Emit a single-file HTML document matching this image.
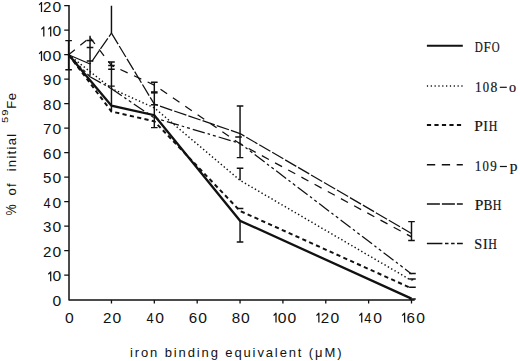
<!DOCTYPE html>
<html><head><meta charset="utf-8"><style>
html,body{margin:0;padding:0;background:#fff;}
body{width:520px;height:361px;overflow:hidden;}
svg{display:block;}
.ax{font-family:"Liberation Sans",sans-serif;font-size:14px;fill:#111;}
.lg{font-family:"Liberation Serif",serif;font-size:15.5px;fill:#111;stroke:#111;stroke-width:0.2px;}
</style></head><body>
<svg width="520" height="361" viewBox="0 0 520 361">
<rect width="520" height="361" fill="#fff"/>

<path d="M69.00 5.12 V299.90 H414.71" fill="none" stroke="#111" stroke-width="1.5" stroke-linejoin="round"/>
<path d="M64.20 275.11 H69.0 M64.20 250.62 H69.0 M64.20 226.13 H69.0 M64.20 201.64 H69.0 M64.20 177.15 H69.0 M64.20 152.66 H69.0 M64.20 128.17 H69.0 M64.20 103.68 H69.0 M64.20 79.19 H69.0 M64.20 54.70 H69.0 M64.20 30.21 H69.0 M64.20 5.72 H69.0 M111.46 299.9 V303.50 M154.32 299.9 V303.50 M197.19 299.9 V303.50 M240.05 299.9 V303.50 M282.91 299.9 V303.50 M325.77 299.9 V303.50 M368.63 299.9 V303.50 M411.50 299.9 V303.50" stroke="#111" stroke-width="1.3" fill="none"/>
<text class="ax" transform="translate(56.85,305.80) scale(1.12,1)" text-anchor="middle">0</text>
<text class="ax" transform="translate(56.85,281.31) scale(1.12,1)" text-anchor="middle">0</text>
<text class="ax" transform="translate(47.10,256.82) scale(1.08,1)" text-anchor="middle">2</text>
<text class="ax" transform="translate(56.85,256.82) scale(1.12,1)" text-anchor="middle">0</text>
<text class="ax" transform="translate(47.10,232.33) scale(1.08,1)" text-anchor="middle">3</text>
<text class="ax" transform="translate(56.85,232.33) scale(1.12,1)" text-anchor="middle">0</text>
<text class="ax" transform="translate(47.10,207.84) scale(0.92,1)" text-anchor="middle">4</text>
<text class="ax" transform="translate(56.85,207.84) scale(1.12,1)" text-anchor="middle">0</text>
<text class="ax" transform="translate(47.10,183.35) scale(1.08,1)" text-anchor="middle">5</text>
<text class="ax" transform="translate(56.85,183.35) scale(1.12,1)" text-anchor="middle">0</text>
<text class="ax" transform="translate(47.10,158.86) scale(1.08,1)" text-anchor="middle">6</text>
<text class="ax" transform="translate(56.85,158.86) scale(1.12,1)" text-anchor="middle">0</text>
<text class="ax" transform="translate(47.10,134.37) scale(1.08,1)" text-anchor="middle">7</text>
<text class="ax" transform="translate(56.85,134.37) scale(1.12,1)" text-anchor="middle">0</text>
<text class="ax" transform="translate(47.10,109.88) scale(1.08,1)" text-anchor="middle">8</text>
<text class="ax" transform="translate(56.85,109.88) scale(1.12,1)" text-anchor="middle">0</text>
<text class="ax" transform="translate(47.10,85.39) scale(1.08,1)" text-anchor="middle">9</text>
<text class="ax" transform="translate(56.85,85.39) scale(1.12,1)" text-anchor="middle">0</text>
<text class="ax" transform="translate(47.10,60.90) scale(1.12,1)" text-anchor="middle">0</text>
<text class="ax" transform="translate(56.85,60.90) scale(1.12,1)" text-anchor="middle">0</text>
<text class="ax" transform="translate(56.85,36.41) scale(1.12,1)" text-anchor="middle">0</text>
<text class="ax" transform="translate(47.10,11.92) scale(1.08,1)" text-anchor="middle">2</text>
<text class="ax" transform="translate(56.85,11.92) scale(1.12,1)" text-anchor="middle">0</text>
<text class="ax" transform="translate(69.40,322.60) scale(1.12,1)" text-anchor="middle">0</text>
<text class="ax" transform="translate(107.26,322.60) scale(1.08,1)" text-anchor="middle">2</text>
<text class="ax" transform="translate(116.76,322.60) scale(1.12,1)" text-anchor="middle">0</text>
<text class="ax" transform="translate(150.12,322.60) scale(0.92,1)" text-anchor="middle">4</text>
<text class="ax" transform="translate(159.62,322.60) scale(1.12,1)" text-anchor="middle">0</text>
<text class="ax" transform="translate(192.99,322.60) scale(1.08,1)" text-anchor="middle">6</text>
<text class="ax" transform="translate(202.49,322.60) scale(1.12,1)" text-anchor="middle">0</text>
<text class="ax" transform="translate(235.85,322.60) scale(1.08,1)" text-anchor="middle">8</text>
<text class="ax" transform="translate(245.35,322.60) scale(1.12,1)" text-anchor="middle">0</text>
<text class="ax" transform="translate(282.01,322.60) scale(1.12,1)" text-anchor="middle">0</text>
<text class="ax" transform="translate(291.91,322.60) scale(1.12,1)" text-anchor="middle">0</text>
<text class="ax" transform="translate(324.87,322.60) scale(1.08,1)" text-anchor="middle">2</text>
<text class="ax" transform="translate(334.77,322.60) scale(1.12,1)" text-anchor="middle">0</text>
<text class="ax" transform="translate(367.73,322.60) scale(0.92,1)" text-anchor="middle">4</text>
<text class="ax" transform="translate(377.63,322.60) scale(1.12,1)" text-anchor="middle">0</text>
<text class="ax" transform="translate(410.60,322.60) scale(1.08,1)" text-anchor="middle">6</text>
<text class="ax" transform="translate(420.50,322.60) scale(1.12,1)" text-anchor="middle">0</text>
<path d="M50.70 271.41 V281.31 M50.90 271.71 L48.30 274.31 M41.50 51.00 V60.90 M41.70 51.30 L39.10 53.90 M43.80 26.51 V36.41 M44.00 26.81 L41.40 29.41 M50.70 26.51 V36.41 M50.90 26.81 L48.30 29.41 M41.50 2.02 V11.92 M41.70 2.32 L39.10 4.92 M276.01 312.70 V322.60 M276.21 313.00 L273.61 315.60 M318.87 312.70 V322.60 M319.07 313.00 L316.47 315.60 M361.73 312.70 V322.60 M361.93 313.00 L359.33 315.60 M404.60 312.70 V322.60 M404.80 313.00 L402.20 315.60" stroke="#111" stroke-width="1.25" fill="none" stroke-linecap="butt"/>
<text class="ax" style="font-size:13px" x="130" y="357" textLength="211.5" lengthAdjust="spacing">iron binding equivalent (μM)</text>
<text class="ax" style="font-size:14px" transform="translate(15.700000000000001,215.6) rotate(-90) scale(0.9,1)">%</text>
<text class="ax" style="font-size:13px" transform="translate(16.3,195.6) rotate(-90)" textLength="12.2" lengthAdjust="spacing">of</text>
<text class="ax" style="font-size:13px" transform="translate(16.3,171.3) rotate(-90)" textLength="37.4" lengthAdjust="spacing">initial</text>
<text class="ax" style="font-size:9.5px" transform="translate(7.5,123.0) rotate(-90) scale(1.18,1)" letter-spacing="0.8">59</text>
<text class="ax" style="font-size:13px" transform="translate(16.3,108.8) rotate(-90)" letter-spacing="0.6">Fe</text>
<path d="M68.60 54.70 L111.46 105.64 L154.32 115.19 L240.05 220.74 L411.50 298.62" fill="none" stroke="#111" stroke-width="2.3" stroke-linejoin="miter"/>
<path d="M68.60 54.70 L111.46 111.52 L154.32 121.31 L240.05 210.95 L411.50 288.33" fill="none" stroke="#111" stroke-width="2.0" stroke-dasharray="4.2 3.3" stroke-linejoin="miter"/>
<path d="M68.60 54.70 L111.46 88.50 L154.32 107.84 L240.05 180.33 L411.50 280.50" fill="none" stroke="#111" stroke-width="1.45" stroke-dasharray="1.4 2.45" stroke-linejoin="miter"/>
<path d="M68.60 54.70 L90.03 37.56" fill="none" stroke="#111" stroke-width="1.25" stroke-dasharray="8 7" stroke-dashoffset="0"/>
<path d="M90.03 37.56 L111.46 65.48" fill="none" stroke="#111" stroke-width="1.25" stroke-dasharray="8 7" stroke-dashoffset="0"/>
<path d="M111.46 65.48 L154.32 85.07" fill="none" stroke="#111" stroke-width="1.25" stroke-dasharray="8 7" stroke-dashoffset="5.2"/>
<path d="M154.32 85.07 L240.05 143.84" fill="none" stroke="#111" stroke-width="1.25" stroke-dasharray="8 7" stroke-dashoffset="7.5"/>
<path d="M240.05 143.84 L411.50 236.91" fill="none" stroke="#111" stroke-width="1.25" stroke-dasharray="8 7" stroke-dashoffset="5.2"/>
<path d="M68.60 54.70 L90.03 64.01" fill="none" stroke="#111" stroke-width="1.25"/>
<path d="M90.03 64.01 L111.46 33.15" fill="none" stroke="#111" stroke-width="1.25" stroke-dasharray="12.9 2.1" stroke-dashoffset="11.7"/>
<path d="M111.46 33.15 L154.32 104.17" fill="none" stroke="#111" stroke-width="1.25" stroke-dasharray="12.9 2.1" stroke-dashoffset="0"/>
<path d="M154.32 104.17 L240.05 133.56" fill="none" stroke="#111" stroke-width="1.25" stroke-dasharray="12.9 2.1" stroke-dashoffset="9"/>
<path d="M240.05 133.56 L411.50 233.48" fill="none" stroke="#111" stroke-width="1.25" stroke-dasharray="12.9 2.1" stroke-dashoffset="7.8"/>
<path d="M68.60 54.70 L90.03 76.74" fill="none" stroke="#111" stroke-width="1.25" stroke-dasharray="12.5 3 2.5 3 3 3" stroke-dashoffset="0"/>
<path d="M90.03 76.74 L111.46 88.74" fill="none" stroke="#111" stroke-width="1.25" stroke-dasharray="12.5 3 2.5 3 3 3" stroke-dashoffset="0"/>
<path d="M111.46 88.74 L154.32 117.88" fill="none" stroke="#111" stroke-width="1.25" stroke-dasharray="12.5 3 2.5 3 3 3" stroke-dashoffset="0"/>
<path d="M154.32 117.88 L240.05 143.35" fill="none" stroke="#111" stroke-width="1.25" stroke-dasharray="12.5 3 2.5 3 3 3" stroke-dashoffset="13.9"/>
<path d="M240.05 143.35 L411.50 273.89" fill="none" stroke="#111" stroke-width="1.25" stroke-dasharray="12.5 3 2.5 3 3 3" stroke-dashoffset="8.6"/>
<path d="M68.60 40.6 V69.8 M65.30 40.6 H71.90 M65.30 69.8 H71.90 M90.03 35.8 V75.7 M86.73 40.4 H93.33 M86.73 47.5 H93.33 M86.73 61.0 H93.33 M111.46 5.8 V33.4 M111.46 62.0 V111.5 M108.16 62.0 H114.76 M108.16 65.4 H114.76 M108.16 69.2 H114.76 M108.16 86.1 H114.76 M154.32 82.3 V127.6 M151.02 82.3 H157.62 M151.02 104.8 H157.62 M151.02 127.6 H157.62 M240.05 105.9 V157.6 M236.75 105.9 H243.35 M236.75 157.6 H243.35 M238.55 137.0 V137.0 M235.25 137.0 H241.85 M240.05 168.2 V180.3 M236.75 168.2 H243.35 M240.05 220.5 V242.0 M236.75 242.0 H243.35 M236.75 208.4 H243.35 M411.50 221.6 V240.5 M408.20 221.6 H414.80 M408.20 240.5 H414.80 M412.46 273.4 V273.4 M409.16 273.4 H415.76 M412.46 279.0 V280.6 M409.16 279.0 H415.76 M412.46 287.3 V287.3 M409.16 287.3 H415.76 M412.46 299.0 V299.0 M409.16 299.0 H415.76" stroke="#111" stroke-width="1.45" fill="none"/>
<path d="M151.02 92.4 H157.62" stroke="#111" stroke-width="2.4" fill="none"/>
<path d="M426.9 45.8 H462.8" stroke="#111" stroke-width="2.0" fill="none"/>
<text class="lg" transform="translate(478.80,51.6) scale(0.72,1)" text-anchor="middle">D</text>
<text class="lg" transform="translate(487.15,51.6) scale(0.85,1)" text-anchor="middle">F</text>
<text class="lg" transform="translate(495.65,51.6) scale(0.7,1)" text-anchor="middle">O</text>
<path d="M426.9 86.0 H462.8" stroke="#111" stroke-width="1.5" stroke-dasharray="1.2 2.63" fill="none"/>
<text class="lg" transform="translate(478.35,91.5) scale(0.85,1)" text-anchor="middle">1</text>
<text class="lg" transform="translate(485.85,91.5) scale(0.82,1)" text-anchor="middle">0</text>
<text class="lg" transform="translate(493.95,91.5) scale(0.88,1)" text-anchor="middle">8</text>
<path d="M499.80 87.30 H506.80" stroke="#111" stroke-width="1.2"/>
<text class="lg" transform="translate(512.65,91.5) scale(0.92,1)" text-anchor="middle">o</text>
<path d="M426.9 125.1 H462.8" stroke="#111" stroke-width="2.0" stroke-dasharray="4.2 3.3" fill="none"/>
<text class="lg" transform="translate(478.65,130.7) scale(1.0,1)" text-anchor="middle">P</text>
<text class="lg" transform="translate(485.55,130.7) scale(0.9,1)" text-anchor="middle">I</text>
<text class="lg" transform="translate(493.05,130.7) scale(0.77,1)" text-anchor="middle">H</text>
<path d="M426.9 164.7 H462.8" stroke="#111" stroke-width="1.5" stroke-dasharray="8.3 6.6" fill="none"/>
<text class="lg" transform="translate(478.00,170.7) scale(0.85,1)" text-anchor="middle">1</text>
<text class="lg" transform="translate(485.60,170.7) scale(0.82,1)" text-anchor="middle">0</text>
<text class="lg" transform="translate(493.55,170.7) scale(0.84,1)" text-anchor="middle">9</text>
<path d="M499.90 166.50 H506.90" stroke="#111" stroke-width="1.2"/>
<text class="lg" transform="translate(513.55,170.7) scale(1.0,1)" text-anchor="middle">p</text>
<path d="M426.9 204.0 H462.8" stroke="#111" stroke-width="1.7" stroke-dasharray="13 2" fill="none"/>
<text class="lg" transform="translate(478.95,209.6) scale(1.0,1)" text-anchor="middle">P</text>
<text class="lg" transform="translate(487.85,209.6) scale(0.86,1)" text-anchor="middle">B</text>
<text class="lg" transform="translate(497.05,209.6) scale(0.77,1)" text-anchor="middle">H</text>
<path d="M426.9 243.4 H462.8" stroke="#111" stroke-width="1.5" stroke-dasharray="15.5 2.6 3.5 2.6 3.5 2.4" fill="none"/>
<text class="lg" transform="translate(478.20,248.7) scale(0.92,1)" text-anchor="middle">S</text>
<text class="lg" transform="translate(485.25,248.7) scale(0.9,1)" text-anchor="middle">I</text>
<text class="lg" transform="translate(492.60,248.7) scale(0.77,1)" text-anchor="middle">H</text>
</svg>
</body></html>
